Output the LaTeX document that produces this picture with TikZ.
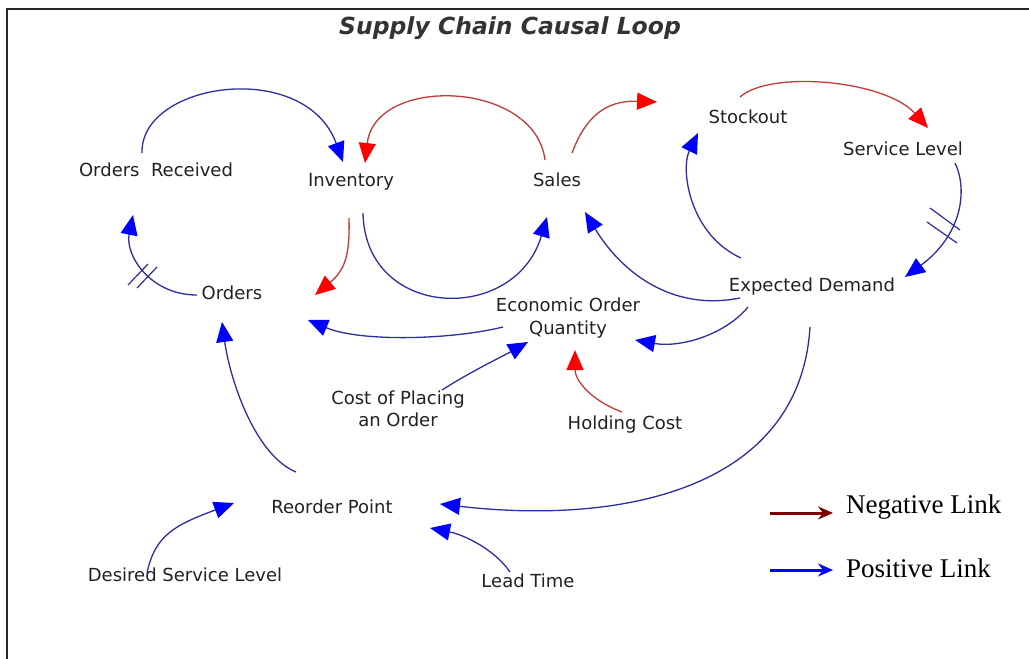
\documentclass[tikz,border=0pt]{standalone}
\usepackage{fontspec}
\usetikzlibrary{arrows.meta}
\newfontfamily\labelfont{DejaVu Sans}
\newfontfamily\legendfont{Liberation Serif}
\definecolor{linkblue}{HTML}{2E2E9E}
\definecolor{headblue}{HTML}{0000FF}
\definecolor{linkred}{HTML}{C23B3B}
\definecolor{headred}{HTML}{FF0000}
\definecolor{legendred}{HTML}{800000}
\definecolor{labelgray}{HTML}{222222}
\definecolor{titlegray}{HTML}{333333}

\begin{document}
\begin{tikzpicture}[x=1pt,y=-1pt,
  var/.style={font=\labelfont\fontsize{18}{22.5}\selectfont, text=labelgray, align=center, inner sep=0pt},
  poslink/.style={draw=linkblue, line width=1.3pt, -{Triangle[length=20pt,width=17pt,color=headblue]}},
  neglink/.style={draw=linkred, line width=1.3pt, -{Triangle[length=20pt,width=17pt,color=headred]}},
  delaymark/.style={draw=linkblue, line width=1.2pt},
  legendtext/.style={font=\legendfont\fontsize{27}{30}\selectfont, anchor=base west, inner sep=0pt},
  legendarrow/.style={line width=3pt, -{Stealth[length=15pt,width=13pt,inset=5pt]}}]

% canvas and frame
\useasboundingbox[fill=white] (0,0) rectangle (1029,659);
\draw[line width=2pt, black!85] (7,659) -- (7,9) -- (1029,9);

% title
\node[inner sep=0pt, text=titlegray, font=\labelfont\bfseries\itshape\fontsize{23.5}{28}\selectfont] (title) at (510,28) {Supply Chain Causal Loop};

% variables
\node[var] (ordrec)  at (156,170) {Orders\ \ Received};
\node[var] (inv)     at (351,182) {Inventory};
\node[var] (sales)   at (557,180) {Sales};
\node[var] (stock)   at (748,117) {Stockout};
\node[var] (servlev) at (903,149) {Service Level};
\node[var] (expdem)  at (812,287) {Expected Demand};
\node[var] (eoq)     at (568,318) {Economic Order\\Quantity};
\node[var] (orders)  at (232,293) {Orders};
\node[var] (cpo)     at (398,409) {Cost of Placing\\an Order};
\node[var] (hold)    at (625,425) {Holding Cost};
\node[var] (reorder) at (332,507) {Reorder Point};
\node[var] (dsl)     at (185,575) {Desired Service Level};
\node[var] (lead)    at (528,581) {Lead Time};

% links
\draw[poslink] ([shift={(-14,-17)}]ordrec.center) .. controls (140,82) and (305,58) .. ([shift={(-8,-20)}]inv.center);
\draw[neglink] ([shift={(-12,-20)}]sales.center) .. controls (535,80) and (375,75) .. ([shift={(14,-19)}]inv.center);
\draw[neglink] ([shift={(15,-27)}]sales.center) .. controls (585,118) and (605,100) .. ([shift={(-91,-15)}]stock.center);
\draw[neglink] ([shift={(-8,-20)}]stock.center) .. controls (770,70) and (885,80) .. ([shift={(25,-21)}]servlev.center);
\draw[poslink] ([shift={(52,14)}]servlev.center) .. controls (968,190) and (962,235) .. ([shift={(93,-10)}]expdem.center);
\draw[poslink] ([shift={(-71,-29)}]expdem.center) .. controls (690,235) and (680,170) .. ([shift={(-50,16)}]stock.center);
\draw[poslink] ([shift={(-72,11)}]expdem.center) .. controls (670,312) and (620,270) .. ([shift={(28,32)}]sales.center);
\draw[poslink] ([shift={(-64,20)}]expdem.center) .. controls (725,335) and (680,348) .. ([shift={(67,22)}]eoq.center);
\draw[poslink] ([shift={(-2,40)}]expdem.center) .. controls (800,490) and (620,525) .. ([shift={(108,-3)}]reorder.center);
\draw[poslink] ([shift={(12,31)}]inv.center) .. controls (365,320) and (515,325) .. ([shift={(-10,37)}]sales.center);
\draw[neglink] ([shift={(-2,36)}]inv.center) .. controls (350,255) and (345,270) .. ([shift={(83,2)}]orders.center);
\draw[poslink] ([shift={(-65,9)}]eoq.center) .. controls (450,340) and (360,342) .. ([shift={(76,27)}]orders.center);
\draw[poslink] ([shift={(44,-19)}]cpo.center) .. controls (470,372) and (505,355) .. ([shift={(-40,24)}]eoq.center);
\draw[neglink] ([shift={(-3,-13)}]hold.center) .. controls (590,400) and (575,380) .. ([shift={(7,32)}]eoq.center);
\draw[poslink] ([shift={(-35,2)}]orders.center) .. controls (150,295) and (125,255) .. ([shift={(-23,45)}]ordrec.center);
\draw[poslink] ([shift={(-36,-35)}]reorder.center) .. controls (255,455) and (230,380) .. ([shift={(-10,29)}]orders.center);
\draw[poslink] ([shift={(-38,-2)}]dsl.center) .. controls (155,535) and (175,525) .. ([shift={(-98,-4)}]reorder.center);
\draw[poslink] ([shift={(-18,-9)}]lead.center) .. controls (495,550) and (465,535) .. ([shift={(98,21)}]reorder.center);

% delay marks
\draw[delaymark] (930,208) -- (960,230);
\draw[delaymark] (927,222) -- (957,243);
\draw[delaymark] (128,285) -- (148,264);
\draw[delaymark] (137,288) -- (157,267);

% legend
\node[legendtext] (negtxt) at (846,513) {Negative Link};
\node[legendtext] (postxt) at (846,577) {Positive Link};
\coordinate (negtail) at (770,513);
\coordinate (postail) at (770,570);
\draw[legendarrow, legendred] (negtail) -- ([xshift=-13]negtxt.base west);
\draw[legendarrow, headblue] (postail) -- ([shift={(-13,-7)}]postxt.base west);
\end{tikzpicture}
\end{document}
